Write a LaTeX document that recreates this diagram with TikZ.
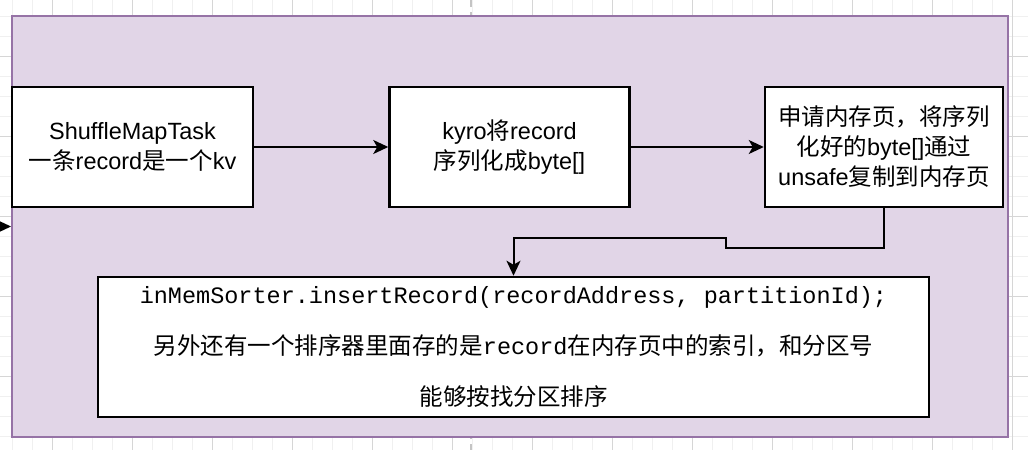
\documentclass[tikz,border=0pt]{standalone}
\usepackage{fontspec}
\setmainfont{Liberation Sans}
\setmonofont{Liberation Mono}
\newfontfamily\cjkfont{Noto Sans CJK SC}
\newcommand{\zh}[1]{{\cjkfont #1}}
\usepackage{tikz}
\usetikzlibrary{arrows.meta, positioning}
\definecolor{gridminor}{HTML}{F0F0F0}
\definecolor{gridmajor}{HTML}{D6D6D6}
\definecolor{pagebreak}{HTML}{C4C4C4}
\definecolor{groupfill}{HTML}{E1D5E7}
\definecolor{groupborder}{HTML}{9673A6}

\begin{document}
\begin{tikzpicture}[
		x=1pt, y=-1pt,
		every node/.style={font=\fontsize{23.5}{30}\selectfont},
		taskbox/.style={draw=black, fill=white, line width=2.5pt,
			minimum height=120pt, align=center, inner sep=0pt},
		groupbox/.style={draw=groupborder, fill=groupfill, line width=2pt,
			minimum width=996pt, minimum height=421pt, inner sep=0pt},
		arr/.style={-{Stealth[length=15pt, width=14pt, inset=4pt]}, line width=2pt, black},
		]
		\useasboundingbox (0,0) rectangle (1028,450);

		% Canvas grid
		\foreach \x in {12,32,...,1028} {
			\draw[gridminor, line width=1pt] (\x,0) -- (\x,450);
		}
		\foreach \y in {16,36,...,450} {
			\draw[gridminor, line width=1pt] (0,\y) -- (1028,\y);
		}
		\foreach \x in {52,132,...,1028} {
			\draw[gridmajor, line width=1pt] (\x,0) -- (\x,450);
		}
		\foreach \y in {56,136,...,450} {
			\draw[gridmajor, line width=1pt] (0,\y) -- (1028,\y);
		}
		\draw[pagebreak, line width=1.5pt, dash pattern=on 7pt off 5pt] (471,0) -- (471,450);

		% Group
		\node[groupbox] (group) at (510,226.5) {};

		% Steps
		\node[taskbox, minimum width=241pt] (maptask) at (132.5,147)
		{ShuffleMapTask\\\zh{一条}record\zh{是一个}kv};

		\node[taskbox, minimum width=240pt, right=134pt of maptask] (kryo)
		{kyro\zh{将}record\\\zh{序列化成}byte[]};

		\node[taskbox, minimum width=238pt, right=133pt of kryo] (mempage)
		{\zh{申请内存页，将序列}\\\zh{化好的}byte[]\zh{通过}\\unsafe\zh{复制到内存页}};

		\node[taskbox, minimum width=831pt, minimum height=140pt,
			font=\fontsize{23.5}{51}\selectfont] (sorter) at (513.5,347)
		{\texttt{inMemSorter.insertRecord(recordAddress, partitionId);}\\
			\zh{另外还有一个排序器里面存的是}\texttt{record}\zh{在内存页中的索引，和分区号}\\
			\zh{能够按找分区排序}};

		% Arrows
		\coordinate (entry) at (-20,0);
		\draw[arr] (entry |- group.west) -- (group.west);
		\draw[arr] (maptask) -- (kryo);
		\draw[arr] (kryo) -- (mempage);
		\draw[arr] (mempage.south) -- ++(0,40) -| ++(-158,-10) -| (sorter.north);
	\end{tikzpicture}
\end{document}
